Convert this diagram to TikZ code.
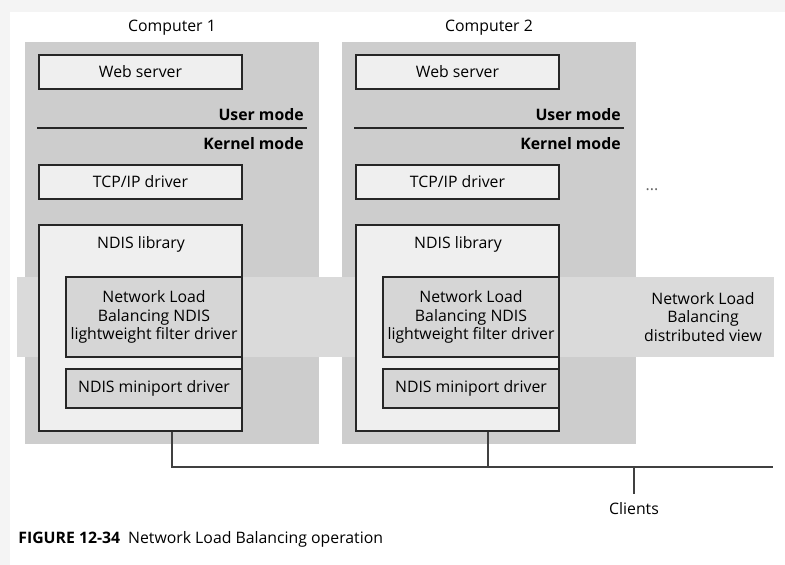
\documentclass[tikz,border=0pt]{standalone}
\usepackage{fontspec}
\setmainfont{Open Sans}
\usepackage{xcolor}
\usetikzlibrary{positioning}
\definecolor{panelgray}{HTML}{CDCDCD}
\definecolor{bandgray}{HTML}{DADADA}
\definecolor{boxgray}{HTML}{EFEFEF}
\definecolor{drvgray}{HTML}{D6D6D6}
\definecolor{scangray}{HTML}{F4F4F4}
\tikzset{
  panel/.style={rectangle, fill=panelgray, minimum width=5.88cm,
                minimum height=8.04cm, inner sep=0pt},
  swbox/.style={rectangle, draw=black!85, line width=0.8pt, fill=boxgray,
                minimum width=4.06cm, minimum height=0.68cm, inner sep=0pt,
                font=\fontsize{9}{10}\selectfont},
  drvbox/.style={rectangle, draw=black!85, line width=0.8pt, fill=drvgray,
                 minimum width=3.52cm, align=center, inner sep=0pt,
                 font=\fontsize{9}{10.6}\selectfont},
  modetext/.style={anchor=east, inner sep=0pt, font=\fontsize{9}{10}\bfseries},
  plain/.style={inner sep=0pt, font=\fontsize{9}{10}\selectfont},
  netline/.style={draw=black!75, line width=0.7pt},
}

\begin{document}
\begin{tikzpicture}[x=0.02cm, y=-0.02cm]
  \useasboundingbox (0,0) rectangle (785,565);
  % scan edges
  \fill[scangray] (0,0) rectangle (785,12);
  \fill[scangray] (0,0) rectangle (10,565);

  % the two computers
  \foreach \i/\dx in {1/0, 2/317} {
    \node[panel] (pc\i) at (172+\dx,243) {};
    \node[plain] (name\i) at (172+\dx,28) {Computer \i};
  }

  % distributed view band, across both computers
  \node[rectangle, fill=bandgray, minimum width=15.14cm, minimum height=1.6cm,
        inner sep=0pt] (band) at (395.5,317) {};

  \foreach \i/\dx in {1/0, 2/317} {
    \node[swbox] (web\i) at (140.5+\dx,72) {Web server};
    \node[modetext] (user\i) at (304+\dx,115) {User mode};
    \draw[black!85, line width=0.8pt] (37+\dx,128) -- (307+\dx,128);
    \node[modetext] (kern\i) at (304+\dx,144) {Kernel mode};
    \node[swbox] (tcp\i) at (140.5+\dx,182) {TCP/IP driver};
    \node[swbox, minimum height=4.12cm] (ndis\i) at (140.5+\dx,328) {};
    \node[plain] (lib\i) at (141+\dx,244) {NDIS library};
    \node[drvbox, minimum height=1.6cm] (nlb\i) at (154+\dx,317)
      {Network Load\\Balancing NDIS\\lightweight filter driver};
    \node[drvbox, minimum height=0.78cm] (mini\i) at (154+\dx,388.5)
      {NDIS miniport driver};
  }

  \node[plain, text=black!60] (more) at (652,190) {...};
  \node[plain, align=center, font=\fontsize{9}{10.6}\selectfont] (dview) at (703,317)
    {Network Load\\Balancing\\distributed view};

  % network
  \coordinate (tap1) at (172,467);
  \coordinate (tap2) at (488,467);
  \coordinate (tapc) at (634,467);
  \coordinate (netend) at (773,467);
  \node[plain] (clients) at (634,509) {Clients};
  \draw[netline] (tap1 |- ndis1.south) -- (tap1) -- (netend);
  \draw[netline] (tap2 |- ndis2.south) -- (tap2);
  \draw[netline] (tapc) -- (clients.north |- 0,494);

  \node[plain, anchor=west] (caption) at (18,539)
    {\textbf{FIGURE 12-34}\hspace{0.5em}Network Load Balancing operation};
\end{tikzpicture}
\end{document}
